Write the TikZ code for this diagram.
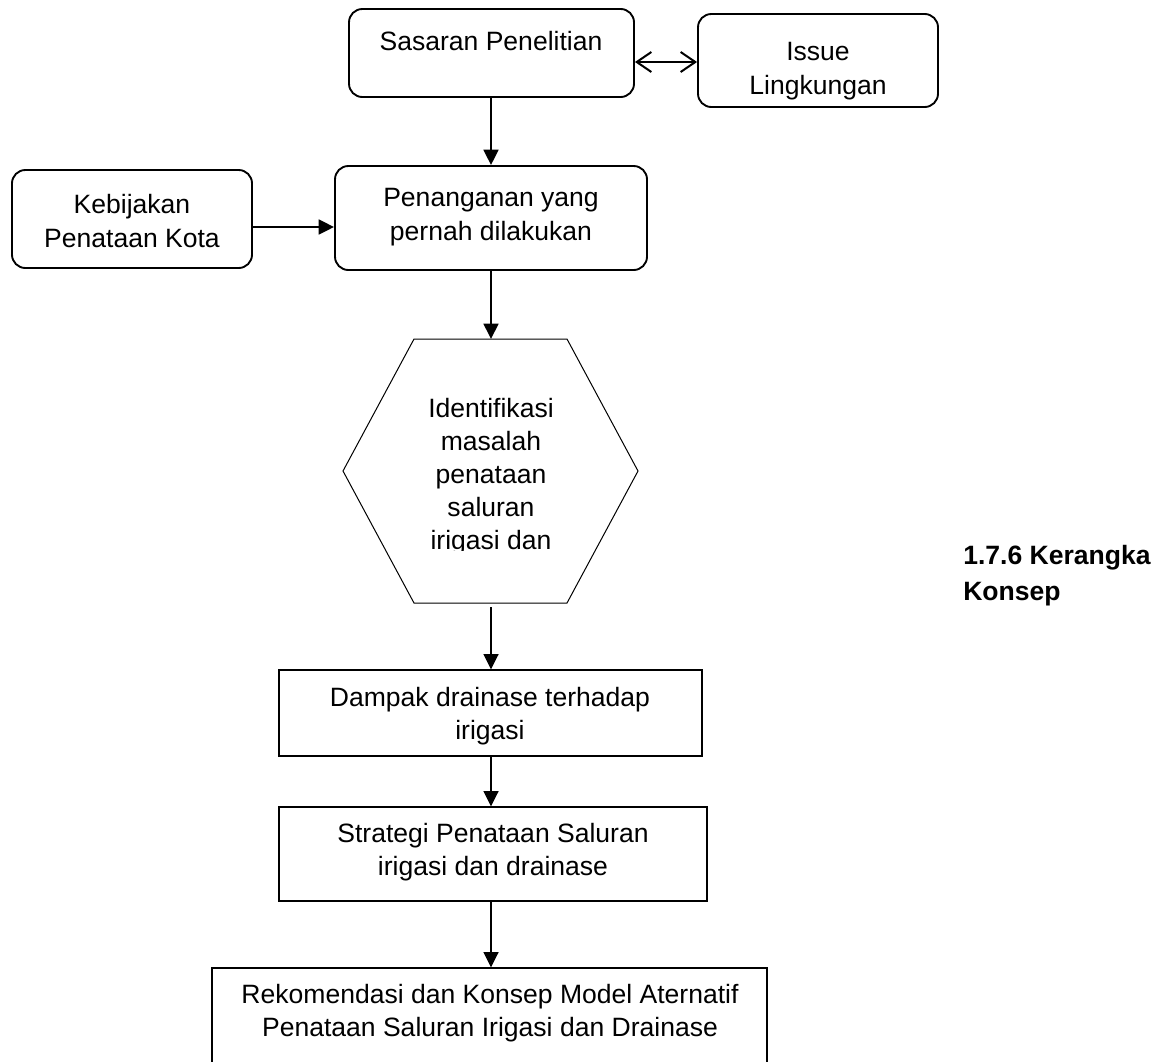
\documentclass[tikz,border=0pt]{standalone}
\usepackage{fontspec}
\setmainfont{Liberation Sans}
\usetikzlibrary{arrows.meta,fit}
\begin{document}
\begin{tikzpicture}[x=0.75pt,y=-0.75pt,
  rbox/.style={draw, line width=1.4pt, rounded corners=10pt, inner sep=0pt},
  sbox/.style={draw, line width=0.9pt, inner sep=0pt},
  txt/.style={align=center, inner sep=0pt, font=\fontsize{19.9pt}{25pt}\selectfont},
  arr/.style={line width=2pt, -{Triangle[length=11.5pt,width=11pt]}},
  dbl/.style={line width=1.5pt, {Straight Barb[length=11pt,width=15pt]}-{Straight Barb[length=11pt,width=15pt]}}]
\useasboundingbox (0,0) rectangle (1159,1061);
% boxes
\node[rbox, fit={(349,9) (634,97)}] (sas) {};
\node[txt] (sasT) at (491,41) {Sasaran Penelitian};
\node[rbox, fit={(698,14) (938,107)}] (iss) {};
\node[txt] (issT) at (818,71) {Issue\\Lingkungan};
\node[rbox, fit={(12,170) (252,268)}] (keb) {};
\node[txt] (kebT) at (132,221) {Kebijakan\\Penataan Kota};
\node[rbox, fit={(335,166) (647,270)}] (pen) {};
\node[txt] (penT) at (491,217) {Penanganan yang\\pernah dilakukan};
% hexagon
\draw[line width=0.75pt] (414,339) -- (567,339) -- (638,471) -- (567,603) -- (414,603) -- (343,471) -- cycle;
\coordinate (hexN) at (491,339);
\coordinate (hexS) at (491,603);
\begin{scope}
\clip (343,380) rectangle (638,550);
\node[txt, font=\fontsize{19.9pt}{24.75pt}\selectfont, anchor=north] (hexT) at (491,398) {Identifikasi\\masalah\\penataan\\saluran\\irigasi dan};
\end{scope}
\node[sbox, fit={(279,670) (702,756)}] (dam) {};
\node[txt] (damT) at (490,716) {Dampak drainase terhadap\\irigasi};
\node[sbox, fit={(279,807) (707,901)}] (str) {};
\node[txt] (strT) at (493,852) {Strategi Penataan Saluran\\irigasi dan drainase};
\node[sbox, fit={(212,968) (767,1090)}] (rek) {};
\node[txt] (rekT) at (490,1013) {Rekomendasi dan Konsep Model Aternatif\\Penataan Saluran Irigasi dan Drainase};
\node[txt, align=left, anchor=west, font=\bfseries\fontsize{19.9pt}{27pt}\selectfont] (lbl) at (963,576) {1.7.6 Kerangka\\Konsep};
% connectors
\coordinate (col) at (491,0);
\coordinate (kebY) at (0,227);
\coordinate (dblY) at (0,62);
\draw[dbl] (sas.east |- dblY) -- (iss.west |- dblY);
\draw[arr] (sas.south -| col) -- (pen.north -| col);
\draw[arr] (keb.east |- kebY) -- (pen.west |- kebY);
\draw[arr] (pen.south -| col) -- (hexN);
\draw[arr] ([yshift=-3pt]hexS) -- (dam.north -| col);
\draw[arr] (dam.south -| col) -- (str.north -| col);
\draw[arr] (str.south -| col) -- (rek.north -| col);
\end{tikzpicture}
\end{document}
